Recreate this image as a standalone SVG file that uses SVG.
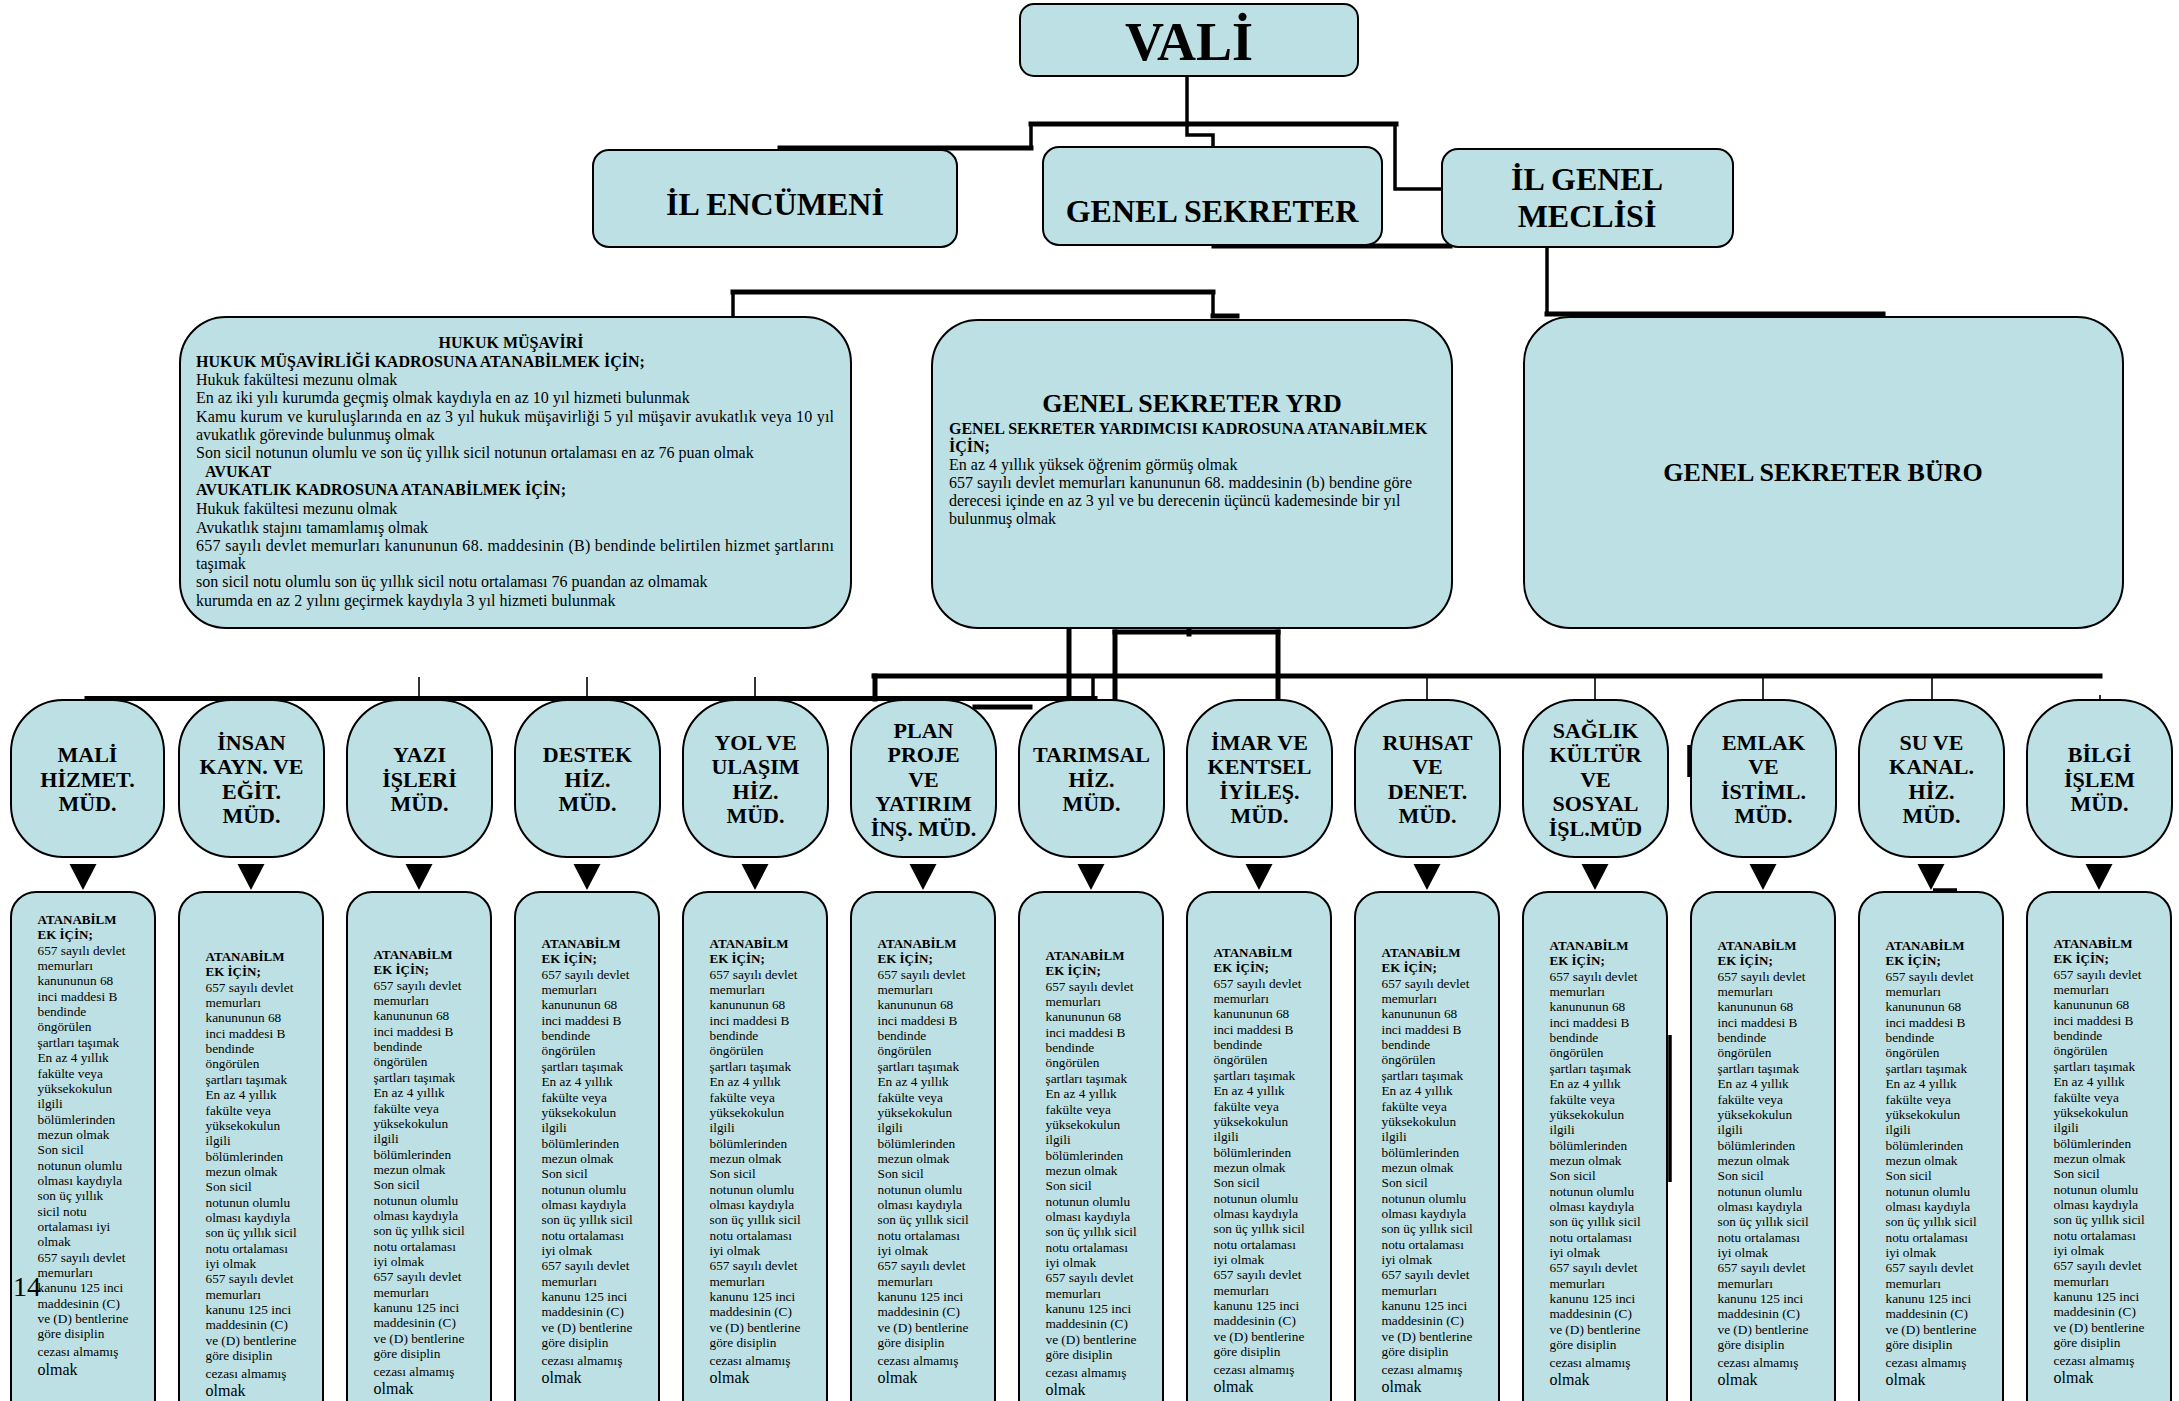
<svg xmlns="http://www.w3.org/2000/svg" width="2179" height="1401" viewBox="0 0 2179 1401">
<style>
.bg{fill:#ffffff}
.box{fill:#BCE0E4;stroke:#000;stroke-width:2}
.c{fill:none;stroke:#000;stroke-width:5;stroke-linecap:square}
.c3{fill:none;stroke:#000;stroke-width:3.5}
.c2{fill:none;stroke:#000;stroke-width:1.6}
.ar{fill:#000}
text{font-family:"Liberation Serif","Times New Roman",serif;fill:#000}
.h{font-weight:bold;text-anchor:middle}
.d{font-size:22px;font-weight:bold;text-anchor:middle}
.p{font-size:16px}
.pb{font-size:16px;font-weight:bold}
.rq{font-size:13.3px}
.bb{font-size:13px;font-weight:bold}
.big{font-size:16px}
</style>
<rect class="bg" x="0" y="0" width="2179" height="1401"/>
<g id="connectors">
<path class="c3" d="M1187,75 V124"/>
<path class="c" d="M1031,124 H1396"/>
<path class="c3" d="M1031,124 V148"/>
<path class="c" d="M780,148 H1031"/>
<path class="c3" d="M1187,124 V135 H1213 V148"/>
<path class="c3" d="M1395,124 V189 H1443"/>
<path class="c" d="M1214,246 H1450"/>
<path class="c3" d="M1547,246 V314"/>
<path class="c" d="M1547,314 H1883"/>
<path class="c3" d="M733,318 V292"/>
<path class="c" d="M733,292 H1213"/>
<path class="c3" d="M1213,292 V318"/>
<path class="c" d="M1213,316 H1237"/>
<path class="c" d="M87,698.5 H1095"/>
<path class="c" d="M874,676 H2100"/>
<path class="c" d="M875,676 V699"/>
<path class="c3" d="M1093,676 V699"/>
<path class="c" d="M1069,628 V699"/>
<path class="c" d="M1115,632 V699"/>
<path class="c" d="M1115,632 H1278"/>
<path class="c" d="M1278,632 V699"/>
<path class="c" d="M1189,628 V634"/>
<path class="c2" d="M419,677 V697 M587,677 V697 M755,677 V697"/>
<path class="c2" d="M1427,678 V700 M1595,678 V700 M1763,678 V700 M1932,678 V700 M2100,695 V700"/>
<path class="c" d="M975,707 H1030"/>
<path class="c3" d="M1689,745 V777"/>
<path class="c3" d="M1670,1035 V1182"/>
<path class="c3" d="M1933,890 H1957"/>
<polygon class="ar" points="69.5,864 96.5,864 83,890"/>
<polygon class="ar" points="237.5,864 264.5,864 251,890"/>
<polygon class="ar" points="405.5,864 432.5,864 419,890"/>
<polygon class="ar" points="573.5,864 600.5,864 587,890"/>
<polygon class="ar" points="741.5,864 768.5,864 755,890"/>
<polygon class="ar" points="909.5,864 936.5,864 923,890"/>
<polygon class="ar" points="1077.5,864 1104.5,864 1091,890"/>
<polygon class="ar" points="1245.5,864 1272.5,864 1259,890"/>
<polygon class="ar" points="1413.5,864 1440.5,864 1427,890"/>
<polygon class="ar" points="1581.5,864 1608.5,864 1595,890"/>
<polygon class="ar" points="1749.5,864 1776.5,864 1763,890"/>
<polygon class="ar" points="1917.5,864 1944.5,864 1931,890"/>
<polygon class="ar" points="2085.5,864 2112.5,864 2099,890"/>
</g>

<g id="vali">
<rect class="box" x="1020" y="4" width="338" height="72" rx="14"/>
<text class="h" x="1189" y="60" font-size="54">VALİ</text>
</g>
<g id="il-encumeni">
<rect class="box" x="593" y="150" width="364" height="97" rx="16"/>
<text class="h" x="775" y="215" font-size="32">İL ENCÜMENİ</text>
</g>
<g id="genel-sekreter">
<rect class="box" x="1043" y="147" width="339" height="98" rx="16"/>
<text class="h" x="1212" y="222" font-size="32">GENEL SEKRETER</text>
</g>
<g id="il-genel-meclisi">
<rect class="box" x="1442" y="149" width="291" height="98" rx="16"/>
<text class="h" x="1587" y="190" font-size="32">İL GENEL</text>
<text class="h" x="1587" y="227" font-size="32">MECLİSİ</text>
</g>

<g id="hukuk">
<rect class="box" x="180" y="317" width="671" height="311" rx="46"/>
<text class="pb" x="511" y="348" text-anchor="middle">HUKUK MÜŞAVİRİ</text>
<text class="pb" x="196" y="367">HUKUK MÜŞAVİRLİĞİ KADROSUNA ATANABİLMEK İÇİN;</text>
<text class="p" x="196" y="385">Hukuk fakültesi mezunu olmak</text>
<text class="p" x="196" y="403">En az iki yılı kurumda geçmiş olmak kaydıyla en az 10 yıl hizmeti bulunmak</text>
<text class="p" x="196" y="422" textLength="638" lengthAdjust="spacing">Kamu kurum ve kuruluşlarında en az 3 yıl hukuk müşavirliği 5 yıl müşavir avukatlık veya 10 yıl</text>
<text class="p" x="196" y="440">avukatlık görevinde bulunmuş olmak</text>
<text class="p" x="196" y="458">Son sicil notunun olumlu ve son üç yıllık sicil notunun ortalaması en az 76 puan olmak</text>
<text class="pb" x="205" y="477">AVUKAT</text>
<text class="pb" x="196" y="495">AVUKATLIK KADROSUNA ATANABİLMEK İÇİN;</text>
<text class="p" x="196" y="514">Hukuk fakültesi mezunu olmak</text>
<text class="p" x="196" y="533">Avukatlık stajını tamamlamış olmak</text>
<text class="p" x="196" y="551" textLength="638" lengthAdjust="spacing">657 sayılı devlet memurları kanununun 68. maddesinin (B) bendinde belirtilen hizmet şartlarını</text>
<text class="p" x="196" y="569">taşımak</text>
<text class="p" x="196" y="587">son sicil notu olumlu son üç yıllık sicil notu ortalaması 76 puandan az olmamak</text>
<text class="p" x="196" y="606">kurumda en az 2 yılını geçirmek kaydıyla 3 yıl hizmeti bulunmak</text>
</g>

<g id="genel-sekreter-yrd">
<rect class="box" x="932" y="320" width="520" height="308" rx="46"/>
<text class="h" x="1192" y="412" font-size="26">GENEL SEKRETER YRD</text>
<text class="pb" x="949" y="434">GENEL SEKRETER YARDIMCISI KADROSUNA ATANABİLMEK</text>
<text class="pb" x="949" y="452">İÇİN;</text>
<text class="p" x="949" y="470">En az 4 yıllık yüksek öğrenim görmüş olmak</text>
<text class="p" x="949" y="488">657 sayılı devlet memurları kanununun 68. maddesinin (b) bendine göre</text>
<text class="p" x="949" y="506">derecesi içinde en az 3 yıl ve bu derecenin üçüncü kademesinde bir yıl</text>
<text class="p" x="949" y="524">bulunmuş olmak</text>
</g>

<g id="genel-sekreter-buro">
<rect class="box" x="1524" y="317" width="599" height="311" rx="46"/>
<text class="h" x="1823" y="481" font-size="26">GENEL SEKRETER BÜRO</text>
</g>

<g id="mali">
<rect class="box" x="11" y="700" width="153" height="157" rx="52"/>
<text class="d" x="87.5" y="762">MALİ</text>
<text class="d" x="87.5" y="786.5">HİZMET.</text>
<text class="d" x="87.5" y="811">MÜD.</text>
</g>
<g id="insan">
<rect class="box" x="179" y="700" width="145" height="157" rx="52"/>
<text class="d" x="251.5" y="749.75">İNSAN</text>
<text class="d" x="251.5" y="774.25">KAYN. VE</text>
<text class="d" x="251.5" y="798.75">EĞİT.</text>
<text class="d" x="251.5" y="823.25">MÜD.</text>
</g>
<g id="yazi">
<rect class="box" x="347" y="700" width="145" height="157" rx="52"/>
<text class="d" x="419.5" y="762">YAZI</text>
<text class="d" x="419.5" y="786.5">İŞLERİ</text>
<text class="d" x="419.5" y="811">MÜD.</text>
</g>
<g id="destek">
<rect class="box" x="515" y="700" width="145" height="157" rx="52"/>
<text class="d" x="587.5" y="762">DESTEK</text>
<text class="d" x="587.5" y="786.5">HİZ.</text>
<text class="d" x="587.5" y="811">MÜD.</text>
</g>
<g id="yol">
<rect class="box" x="683" y="700" width="145" height="157" rx="52"/>
<text class="d" x="755.5" y="749.75">YOL VE</text>
<text class="d" x="755.5" y="774.25">ULAŞIM</text>
<text class="d" x="755.5" y="798.75">HİZ.</text>
<text class="d" x="755.5" y="823.25">MÜD.</text>
</g>
<g id="plan">
<rect class="box" x="851" y="700" width="145" height="157" rx="52"/>
<text class="d" x="923.5" y="737.5">PLAN</text>
<text class="d" x="923.5" y="762">PROJE</text>
<text class="d" x="923.5" y="786.5">VE</text>
<text class="d" x="923.5" y="811">YATIRIM</text>
<text class="d" x="923.5" y="835.5">İNŞ. MÜD.</text>
</g>
<g id="tarimsal">
<rect class="box" x="1019" y="700" width="145" height="157" rx="52"/>
<text class="d" x="1091.5" y="762">TARIMSAL</text>
<text class="d" x="1091.5" y="786.5">HİZ.</text>
<text class="d" x="1091.5" y="811">MÜD.</text>
</g>
<g id="imar">
<rect class="box" x="1187" y="700" width="145" height="157" rx="52"/>
<text class="d" x="1259.5" y="749.75">İMAR VE</text>
<text class="d" x="1259.5" y="774.25">KENTSEL</text>
<text class="d" x="1259.5" y="798.75">İYİLEŞ.</text>
<text class="d" x="1259.5" y="823.25">MÜD.</text>
</g>
<g id="ruhsat">
<rect class="box" x="1355" y="700" width="145" height="157" rx="52"/>
<text class="d" x="1427.5" y="749.75">RUHSAT</text>
<text class="d" x="1427.5" y="774.25">VE</text>
<text class="d" x="1427.5" y="798.75">DENET.</text>
<text class="d" x="1427.5" y="823.25">MÜD.</text>
</g>
<g id="saglik">
<rect class="box" x="1523" y="700" width="145" height="157" rx="52"/>
<text class="d" x="1595.5" y="737.5">SAĞLIK</text>
<text class="d" x="1595.5" y="762">KÜLTÜR</text>
<text class="d" x="1595.5" y="786.5">VE</text>
<text class="d" x="1595.5" y="811">SOSYAL</text>
<text class="d" x="1595.5" y="835.5">İŞL.MÜD</text>
</g>
<g id="emlak">
<rect class="box" x="1691" y="700" width="145" height="157" rx="52"/>
<text class="d" x="1763.5" y="749.75">EMLAK</text>
<text class="d" x="1763.5" y="774.25">VE</text>
<text class="d" x="1763.5" y="798.75">İSTİML.</text>
<text class="d" x="1763.5" y="823.25">MÜD.</text>
</g>
<g id="su">
<rect class="box" x="1859" y="700" width="145" height="157" rx="52"/>
<text class="d" x="1931.5" y="749.75">SU VE</text>
<text class="d" x="1931.5" y="774.25">KANAL.</text>
<text class="d" x="1931.5" y="798.75">HİZ.</text>
<text class="d" x="1931.5" y="823.25">MÜD.</text>
</g>
<g id="bilgi">
<rect class="box" x="2027" y="700" width="145" height="157" rx="52"/>
<text class="d" x="2099.5" y="762">BİLGİ</text>
<text class="d" x="2099.5" y="786.5">İŞLEM</text>
<text class="d" x="2099.5" y="811">MÜD.</text>
</g>

<g id="req-mali">
<rect class="box" x="11" y="892" width="144" height="600" rx="25"/>
<text class="rq" x="37.5" y="924"><tspan class="bb">ATANABİLM</tspan><tspan class="bb" x="37.5" dy="15.35">EK İÇİN;</tspan><tspan x="37.5" dy="15.35">657 sayılı devlet</tspan><tspan x="37.5" dy="15.35">memurları</tspan><tspan x="37.5" dy="15.35">kanununun 68</tspan><tspan x="37.5" dy="15.35">inci maddesi B</tspan><tspan x="37.5" dy="15.35">bendinde</tspan><tspan x="37.5" dy="15.35">öngörülen</tspan><tspan x="37.5" dy="15.35">şartları taşımak</tspan><tspan x="37.5" dy="15.35">En az 4 yıllık</tspan><tspan x="37.5" dy="15.35">fakülte veya</tspan><tspan x="37.5" dy="15.35">yüksekokulun</tspan><tspan x="37.5" dy="15.35">ilgili</tspan><tspan x="37.5" dy="15.35">bölümlerinden</tspan><tspan x="37.5" dy="15.35">mezun olmak</tspan><tspan x="37.5" dy="15.35">Son sicil</tspan><tspan x="37.5" dy="15.35">notunun olumlu</tspan><tspan x="37.5" dy="15.35">olması kaydıyla</tspan><tspan x="37.5" dy="15.35">son üç yıllık</tspan><tspan x="37.5" dy="15.35">sicil notu</tspan><tspan x="37.5" dy="15.35">ortalaması iyi</tspan><tspan x="37.5" dy="15.35">olmak</tspan><tspan x="37.5" dy="15.35">657 sayılı devlet</tspan><tspan x="37.5" dy="15.35">memurları</tspan><tspan x="37.5" dy="15.35">kanunu 125 inci</tspan><tspan x="37.5" dy="15.35">maddesinin (C)</tspan><tspan x="37.5" dy="15.35">ve (D) bentlerine</tspan><tspan x="37.5" dy="15.35">göre disiplin</tspan><tspan x="37.5" dy="17.5">cezası almamış</tspan><tspan class="big" x="37.5" dy="19">olmak</tspan></text>
</g>
<text id="page-number" x="13" y="1296" font-size="28">14</text>

<g id="req-insan">
<rect class="box" x="179" y="892" width="144" height="600" rx="25"/>
<text class="rq" x="205.5" y="961"><tspan class="bb">ATANABİLM</tspan><tspan class="bb" x="205.5" dy="15.35">EK İÇİN;</tspan><tspan x="205.5" dy="15.35">657 sayılı devlet</tspan><tspan x="205.5" dy="15.35">memurları</tspan><tspan x="205.5" dy="15.35">kanununun 68</tspan><tspan x="205.5" dy="15.35">inci maddesi B</tspan><tspan x="205.5" dy="15.35">bendinde</tspan><tspan x="205.5" dy="15.35">öngörülen</tspan><tspan x="205.5" dy="15.35">şartları taşımak</tspan><tspan x="205.5" dy="15.35">En az 4 yıllık</tspan><tspan x="205.5" dy="15.35">fakülte veya</tspan><tspan x="205.5" dy="15.35">yüksekokulun</tspan><tspan x="205.5" dy="15.35">ilgili</tspan><tspan x="205.5" dy="15.35">bölümlerinden</tspan><tspan x="205.5" dy="15.35">mezun olmak</tspan><tspan x="205.5" dy="15.35">Son sicil</tspan><tspan x="205.5" dy="15.35">notunun olumlu</tspan><tspan x="205.5" dy="15.35">olması kaydıyla</tspan><tspan x="205.5" dy="15.35">son üç yıllık sicil</tspan><tspan x="205.5" dy="15.35">notu ortalaması</tspan><tspan x="205.5" dy="15.35">iyi olmak</tspan><tspan x="205.5" dy="15.35">657 sayılı devlet</tspan><tspan x="205.5" dy="15.35">memurları</tspan><tspan x="205.5" dy="15.35">kanunu 125 inci</tspan><tspan x="205.5" dy="15.35">maddesinin (C)</tspan><tspan x="205.5" dy="15.35">ve (D) bentlerine</tspan><tspan x="205.5" dy="15.35">göre disiplin</tspan><tspan x="205.5" dy="17.5">cezası almamış</tspan><tspan class="big" x="205.5" dy="18.5">olmak</tspan></text>
</g>
<g id="req-yazi">
<rect class="box" x="347" y="892" width="144" height="600" rx="25"/>
<text class="rq" x="373.5" y="959"><tspan class="bb">ATANABİLM</tspan><tspan class="bb" x="373.5" dy="15.35">EK İÇİN;</tspan><tspan x="373.5" dy="15.35">657 sayılı devlet</tspan><tspan x="373.5" dy="15.35">memurları</tspan><tspan x="373.5" dy="15.35">kanununun 68</tspan><tspan x="373.5" dy="15.35">inci maddesi B</tspan><tspan x="373.5" dy="15.35">bendinde</tspan><tspan x="373.5" dy="15.35">öngörülen</tspan><tspan x="373.5" dy="15.35">şartları taşımak</tspan><tspan x="373.5" dy="15.35">En az 4 yıllık</tspan><tspan x="373.5" dy="15.35">fakülte veya</tspan><tspan x="373.5" dy="15.35">yüksekokulun</tspan><tspan x="373.5" dy="15.35">ilgili</tspan><tspan x="373.5" dy="15.35">bölümlerinden</tspan><tspan x="373.5" dy="15.35">mezun olmak</tspan><tspan x="373.5" dy="15.35">Son sicil</tspan><tspan x="373.5" dy="15.35">notunun olumlu</tspan><tspan x="373.5" dy="15.35">olması kaydıyla</tspan><tspan x="373.5" dy="15.35">son üç yıllık sicil</tspan><tspan x="373.5" dy="15.35">notu ortalaması</tspan><tspan x="373.5" dy="15.35">iyi olmak</tspan><tspan x="373.5" dy="15.35">657 sayılı devlet</tspan><tspan x="373.5" dy="15.35">memurları</tspan><tspan x="373.5" dy="15.35">kanunu 125 inci</tspan><tspan x="373.5" dy="15.35">maddesinin (C)</tspan><tspan x="373.5" dy="15.35">ve (D) bentlerine</tspan><tspan x="373.5" dy="15.35">göre disiplin</tspan><tspan x="373.5" dy="17.5">cezası almamış</tspan><tspan class="big" x="373.5" dy="18.5">olmak</tspan></text>
</g>
<g id="req-destek">
<rect class="box" x="515" y="892" width="144" height="600" rx="25"/>
<text class="rq" x="541.5" y="948"><tspan class="bb">ATANABİLM</tspan><tspan class="bb" x="541.5" dy="15.35">EK İÇİN;</tspan><tspan x="541.5" dy="15.35">657 sayılı devlet</tspan><tspan x="541.5" dy="15.35">memurları</tspan><tspan x="541.5" dy="15.35">kanununun 68</tspan><tspan x="541.5" dy="15.35">inci maddesi B</tspan><tspan x="541.5" dy="15.35">bendinde</tspan><tspan x="541.5" dy="15.35">öngörülen</tspan><tspan x="541.5" dy="15.35">şartları taşımak</tspan><tspan x="541.5" dy="15.35">En az 4 yıllık</tspan><tspan x="541.5" dy="15.35">fakülte veya</tspan><tspan x="541.5" dy="15.35">yüksekokulun</tspan><tspan x="541.5" dy="15.35">ilgili</tspan><tspan x="541.5" dy="15.35">bölümlerinden</tspan><tspan x="541.5" dy="15.35">mezun olmak</tspan><tspan x="541.5" dy="15.35">Son sicil</tspan><tspan x="541.5" dy="15.35">notunun olumlu</tspan><tspan x="541.5" dy="15.35">olması kaydıyla</tspan><tspan x="541.5" dy="15.35">son üç yıllık sicil</tspan><tspan x="541.5" dy="15.35">notu ortalaması</tspan><tspan x="541.5" dy="15.35">iyi olmak</tspan><tspan x="541.5" dy="15.35">657 sayılı devlet</tspan><tspan x="541.5" dy="15.35">memurları</tspan><tspan x="541.5" dy="15.35">kanunu 125 inci</tspan><tspan x="541.5" dy="15.35">maddesinin (C)</tspan><tspan x="541.5" dy="15.35">ve (D) bentlerine</tspan><tspan x="541.5" dy="15.35">göre disiplin</tspan><tspan x="541.5" dy="17.5">cezası almamış</tspan><tspan class="big" x="541.5" dy="18.5">olmak</tspan></text>
</g>
<g id="req-yol">
<rect class="box" x="683" y="892" width="144" height="600" rx="25"/>
<text class="rq" x="709.5" y="948"><tspan class="bb">ATANABİLM</tspan><tspan class="bb" x="709.5" dy="15.35">EK İÇİN;</tspan><tspan x="709.5" dy="15.35">657 sayılı devlet</tspan><tspan x="709.5" dy="15.35">memurları</tspan><tspan x="709.5" dy="15.35">kanununun 68</tspan><tspan x="709.5" dy="15.35">inci maddesi B</tspan><tspan x="709.5" dy="15.35">bendinde</tspan><tspan x="709.5" dy="15.35">öngörülen</tspan><tspan x="709.5" dy="15.35">şartları taşımak</tspan><tspan x="709.5" dy="15.35">En az 4 yıllık</tspan><tspan x="709.5" dy="15.35">fakülte veya</tspan><tspan x="709.5" dy="15.35">yüksekokulun</tspan><tspan x="709.5" dy="15.35">ilgili</tspan><tspan x="709.5" dy="15.35">bölümlerinden</tspan><tspan x="709.5" dy="15.35">mezun olmak</tspan><tspan x="709.5" dy="15.35">Son sicil</tspan><tspan x="709.5" dy="15.35">notunun olumlu</tspan><tspan x="709.5" dy="15.35">olması kaydıyla</tspan><tspan x="709.5" dy="15.35">son üç yıllık sicil</tspan><tspan x="709.5" dy="15.35">notu ortalaması</tspan><tspan x="709.5" dy="15.35">iyi olmak</tspan><tspan x="709.5" dy="15.35">657 sayılı devlet</tspan><tspan x="709.5" dy="15.35">memurları</tspan><tspan x="709.5" dy="15.35">kanunu 125 inci</tspan><tspan x="709.5" dy="15.35">maddesinin (C)</tspan><tspan x="709.5" dy="15.35">ve (D) bentlerine</tspan><tspan x="709.5" dy="15.35">göre disiplin</tspan><tspan x="709.5" dy="17.5">cezası almamış</tspan><tspan class="big" x="709.5" dy="18.5">olmak</tspan></text>
</g>
<g id="req-plan">
<rect class="box" x="851" y="892" width="144" height="600" rx="25"/>
<text class="rq" x="877.5" y="948"><tspan class="bb">ATANABİLM</tspan><tspan class="bb" x="877.5" dy="15.35">EK İÇİN;</tspan><tspan x="877.5" dy="15.35">657 sayılı devlet</tspan><tspan x="877.5" dy="15.35">memurları</tspan><tspan x="877.5" dy="15.35">kanununun 68</tspan><tspan x="877.5" dy="15.35">inci maddesi B</tspan><tspan x="877.5" dy="15.35">bendinde</tspan><tspan x="877.5" dy="15.35">öngörülen</tspan><tspan x="877.5" dy="15.35">şartları taşımak</tspan><tspan x="877.5" dy="15.35">En az 4 yıllık</tspan><tspan x="877.5" dy="15.35">fakülte veya</tspan><tspan x="877.5" dy="15.35">yüksekokulun</tspan><tspan x="877.5" dy="15.35">ilgili</tspan><tspan x="877.5" dy="15.35">bölümlerinden</tspan><tspan x="877.5" dy="15.35">mezun olmak</tspan><tspan x="877.5" dy="15.35">Son sicil</tspan><tspan x="877.5" dy="15.35">notunun olumlu</tspan><tspan x="877.5" dy="15.35">olması kaydıyla</tspan><tspan x="877.5" dy="15.35">son üç yıllık sicil</tspan><tspan x="877.5" dy="15.35">notu ortalaması</tspan><tspan x="877.5" dy="15.35">iyi olmak</tspan><tspan x="877.5" dy="15.35">657 sayılı devlet</tspan><tspan x="877.5" dy="15.35">memurları</tspan><tspan x="877.5" dy="15.35">kanunu 125 inci</tspan><tspan x="877.5" dy="15.35">maddesinin (C)</tspan><tspan x="877.5" dy="15.35">ve (D) bentlerine</tspan><tspan x="877.5" dy="15.35">göre disiplin</tspan><tspan x="877.5" dy="17.5">cezası almamış</tspan><tspan class="big" x="877.5" dy="18.5">olmak</tspan></text>
</g>
<g id="req-tarimsal">
<rect class="box" x="1019" y="892" width="144" height="600" rx="25"/>
<text class="rq" x="1045.5" y="960"><tspan class="bb">ATANABİLM</tspan><tspan class="bb" x="1045.5" dy="15.35">EK İÇİN;</tspan><tspan x="1045.5" dy="15.35">657 sayılı devlet</tspan><tspan x="1045.5" dy="15.35">memurları</tspan><tspan x="1045.5" dy="15.35">kanununun 68</tspan><tspan x="1045.5" dy="15.35">inci maddesi B</tspan><tspan x="1045.5" dy="15.35">bendinde</tspan><tspan x="1045.5" dy="15.35">öngörülen</tspan><tspan x="1045.5" dy="15.35">şartları taşımak</tspan><tspan x="1045.5" dy="15.35">En az 4 yıllık</tspan><tspan x="1045.5" dy="15.35">fakülte veya</tspan><tspan x="1045.5" dy="15.35">yüksekokulun</tspan><tspan x="1045.5" dy="15.35">ilgili</tspan><tspan x="1045.5" dy="15.35">bölümlerinden</tspan><tspan x="1045.5" dy="15.35">mezun olmak</tspan><tspan x="1045.5" dy="15.35">Son sicil</tspan><tspan x="1045.5" dy="15.35">notunun olumlu</tspan><tspan x="1045.5" dy="15.35">olması kaydıyla</tspan><tspan x="1045.5" dy="15.35">son üç yıllık sicil</tspan><tspan x="1045.5" dy="15.35">notu ortalaması</tspan><tspan x="1045.5" dy="15.35">iyi olmak</tspan><tspan x="1045.5" dy="15.35">657 sayılı devlet</tspan><tspan x="1045.5" dy="15.35">memurları</tspan><tspan x="1045.5" dy="15.35">kanunu 125 inci</tspan><tspan x="1045.5" dy="15.35">maddesinin (C)</tspan><tspan x="1045.5" dy="15.35">ve (D) bentlerine</tspan><tspan x="1045.5" dy="15.35">göre disiplin</tspan><tspan x="1045.5" dy="17.5">cezası almamış</tspan><tspan class="big" x="1045.5" dy="18.5">olmak</tspan></text>
</g>
<g id="req-imar">
<rect class="box" x="1187" y="892" width="144" height="600" rx="25"/>
<text class="rq" x="1213.5" y="957"><tspan class="bb">ATANABİLM</tspan><tspan class="bb" x="1213.5" dy="15.35">EK İÇİN;</tspan><tspan x="1213.5" dy="15.35">657 sayılı devlet</tspan><tspan x="1213.5" dy="15.35">memurları</tspan><tspan x="1213.5" dy="15.35">kanununun 68</tspan><tspan x="1213.5" dy="15.35">inci maddesi B</tspan><tspan x="1213.5" dy="15.35">bendinde</tspan><tspan x="1213.5" dy="15.35">öngörülen</tspan><tspan x="1213.5" dy="15.35">şartları taşımak</tspan><tspan x="1213.5" dy="15.35">En az 4 yıllık</tspan><tspan x="1213.5" dy="15.35">fakülte veya</tspan><tspan x="1213.5" dy="15.35">yüksekokulun</tspan><tspan x="1213.5" dy="15.35">ilgili</tspan><tspan x="1213.5" dy="15.35">bölümlerinden</tspan><tspan x="1213.5" dy="15.35">mezun olmak</tspan><tspan x="1213.5" dy="15.35">Son sicil</tspan><tspan x="1213.5" dy="15.35">notunun olumlu</tspan><tspan x="1213.5" dy="15.35">olması kaydıyla</tspan><tspan x="1213.5" dy="15.35">son üç yıllık sicil</tspan><tspan x="1213.5" dy="15.35">notu ortalaması</tspan><tspan x="1213.5" dy="15.35">iyi olmak</tspan><tspan x="1213.5" dy="15.35">657 sayılı devlet</tspan><tspan x="1213.5" dy="15.35">memurları</tspan><tspan x="1213.5" dy="15.35">kanunu 125 inci</tspan><tspan x="1213.5" dy="15.35">maddesinin (C)</tspan><tspan x="1213.5" dy="15.35">ve (D) bentlerine</tspan><tspan x="1213.5" dy="15.35">göre disiplin</tspan><tspan x="1213.5" dy="17.5">cezası almamış</tspan><tspan class="big" x="1213.5" dy="18.5">olmak</tspan></text>
</g>
<g id="req-ruhsat">
<rect class="box" x="1355" y="892" width="144" height="600" rx="25"/>
<text class="rq" x="1381.5" y="957"><tspan class="bb">ATANABİLM</tspan><tspan class="bb" x="1381.5" dy="15.35">EK İÇİN;</tspan><tspan x="1381.5" dy="15.35">657 sayılı devlet</tspan><tspan x="1381.5" dy="15.35">memurları</tspan><tspan x="1381.5" dy="15.35">kanununun 68</tspan><tspan x="1381.5" dy="15.35">inci maddesi B</tspan><tspan x="1381.5" dy="15.35">bendinde</tspan><tspan x="1381.5" dy="15.35">öngörülen</tspan><tspan x="1381.5" dy="15.35">şartları taşımak</tspan><tspan x="1381.5" dy="15.35">En az 4 yıllık</tspan><tspan x="1381.5" dy="15.35">fakülte veya</tspan><tspan x="1381.5" dy="15.35">yüksekokulun</tspan><tspan x="1381.5" dy="15.35">ilgili</tspan><tspan x="1381.5" dy="15.35">bölümlerinden</tspan><tspan x="1381.5" dy="15.35">mezun olmak</tspan><tspan x="1381.5" dy="15.35">Son sicil</tspan><tspan x="1381.5" dy="15.35">notunun olumlu</tspan><tspan x="1381.5" dy="15.35">olması kaydıyla</tspan><tspan x="1381.5" dy="15.35">son üç yıllık sicil</tspan><tspan x="1381.5" dy="15.35">notu ortalaması</tspan><tspan x="1381.5" dy="15.35">iyi olmak</tspan><tspan x="1381.5" dy="15.35">657 sayılı devlet</tspan><tspan x="1381.5" dy="15.35">memurları</tspan><tspan x="1381.5" dy="15.35">kanunu 125 inci</tspan><tspan x="1381.5" dy="15.35">maddesinin (C)</tspan><tspan x="1381.5" dy="15.35">ve (D) bentlerine</tspan><tspan x="1381.5" dy="15.35">göre disiplin</tspan><tspan x="1381.5" dy="17.5">cezası almamış</tspan><tspan class="big" x="1381.5" dy="18.5">olmak</tspan></text>
</g>
<g id="req-saglik">
<rect class="box" x="1523" y="892" width="144" height="600" rx="25"/>
<text class="rq" x="1549.5" y="950"><tspan class="bb">ATANABİLM</tspan><tspan class="bb" x="1549.5" dy="15.35">EK İÇİN;</tspan><tspan x="1549.5" dy="15.35">657 sayılı devlet</tspan><tspan x="1549.5" dy="15.35">memurları</tspan><tspan x="1549.5" dy="15.35">kanununun 68</tspan><tspan x="1549.5" dy="15.35">inci maddesi B</tspan><tspan x="1549.5" dy="15.35">bendinde</tspan><tspan x="1549.5" dy="15.35">öngörülen</tspan><tspan x="1549.5" dy="15.35">şartları taşımak</tspan><tspan x="1549.5" dy="15.35">En az 4 yıllık</tspan><tspan x="1549.5" dy="15.35">fakülte veya</tspan><tspan x="1549.5" dy="15.35">yüksekokulun</tspan><tspan x="1549.5" dy="15.35">ilgili</tspan><tspan x="1549.5" dy="15.35">bölümlerinden</tspan><tspan x="1549.5" dy="15.35">mezun olmak</tspan><tspan x="1549.5" dy="15.35">Son sicil</tspan><tspan x="1549.5" dy="15.35">notunun olumlu</tspan><tspan x="1549.5" dy="15.35">olması kaydıyla</tspan><tspan x="1549.5" dy="15.35">son üç yıllık sicil</tspan><tspan x="1549.5" dy="15.35">notu ortalaması</tspan><tspan x="1549.5" dy="15.35">iyi olmak</tspan><tspan x="1549.5" dy="15.35">657 sayılı devlet</tspan><tspan x="1549.5" dy="15.35">memurları</tspan><tspan x="1549.5" dy="15.35">kanunu 125 inci</tspan><tspan x="1549.5" dy="15.35">maddesinin (C)</tspan><tspan x="1549.5" dy="15.35">ve (D) bentlerine</tspan><tspan x="1549.5" dy="15.35">göre disiplin</tspan><tspan x="1549.5" dy="17.5">cezası almamış</tspan><tspan class="big" x="1549.5" dy="18.5">olmak</tspan></text>
</g>
<g id="req-emlak">
<rect class="box" x="1691" y="892" width="144" height="600" rx="25"/>
<text class="rq" x="1717.5" y="950"><tspan class="bb">ATANABİLM</tspan><tspan class="bb" x="1717.5" dy="15.35">EK İÇİN;</tspan><tspan x="1717.5" dy="15.35">657 sayılı devlet</tspan><tspan x="1717.5" dy="15.35">memurları</tspan><tspan x="1717.5" dy="15.35">kanununun 68</tspan><tspan x="1717.5" dy="15.35">inci maddesi B</tspan><tspan x="1717.5" dy="15.35">bendinde</tspan><tspan x="1717.5" dy="15.35">öngörülen</tspan><tspan x="1717.5" dy="15.35">şartları taşımak</tspan><tspan x="1717.5" dy="15.35">En az 4 yıllık</tspan><tspan x="1717.5" dy="15.35">fakülte veya</tspan><tspan x="1717.5" dy="15.35">yüksekokulun</tspan><tspan x="1717.5" dy="15.35">ilgili</tspan><tspan x="1717.5" dy="15.35">bölümlerinden</tspan><tspan x="1717.5" dy="15.35">mezun olmak</tspan><tspan x="1717.5" dy="15.35">Son sicil</tspan><tspan x="1717.5" dy="15.35">notunun olumlu</tspan><tspan x="1717.5" dy="15.35">olması kaydıyla</tspan><tspan x="1717.5" dy="15.35">son üç yıllık sicil</tspan><tspan x="1717.5" dy="15.35">notu ortalaması</tspan><tspan x="1717.5" dy="15.35">iyi olmak</tspan><tspan x="1717.5" dy="15.35">657 sayılı devlet</tspan><tspan x="1717.5" dy="15.35">memurları</tspan><tspan x="1717.5" dy="15.35">kanunu 125 inci</tspan><tspan x="1717.5" dy="15.35">maddesinin (C)</tspan><tspan x="1717.5" dy="15.35">ve (D) bentlerine</tspan><tspan x="1717.5" dy="15.35">göre disiplin</tspan><tspan x="1717.5" dy="17.5">cezası almamış</tspan><tspan class="big" x="1717.5" dy="18.5">olmak</tspan></text>
</g>
<g id="req-su">
<rect class="box" x="1859" y="892" width="144" height="600" rx="25"/>
<text class="rq" x="1885.5" y="950"><tspan class="bb">ATANABİLM</tspan><tspan class="bb" x="1885.5" dy="15.35">EK İÇİN;</tspan><tspan x="1885.5" dy="15.35">657 sayılı devlet</tspan><tspan x="1885.5" dy="15.35">memurları</tspan><tspan x="1885.5" dy="15.35">kanununun 68</tspan><tspan x="1885.5" dy="15.35">inci maddesi B</tspan><tspan x="1885.5" dy="15.35">bendinde</tspan><tspan x="1885.5" dy="15.35">öngörülen</tspan><tspan x="1885.5" dy="15.35">şartları taşımak</tspan><tspan x="1885.5" dy="15.35">En az 4 yıllık</tspan><tspan x="1885.5" dy="15.35">fakülte veya</tspan><tspan x="1885.5" dy="15.35">yüksekokulun</tspan><tspan x="1885.5" dy="15.35">ilgili</tspan><tspan x="1885.5" dy="15.35">bölümlerinden</tspan><tspan x="1885.5" dy="15.35">mezun olmak</tspan><tspan x="1885.5" dy="15.35">Son sicil</tspan><tspan x="1885.5" dy="15.35">notunun olumlu</tspan><tspan x="1885.5" dy="15.35">olması kaydıyla</tspan><tspan x="1885.5" dy="15.35">son üç yıllık sicil</tspan><tspan x="1885.5" dy="15.35">notu ortalaması</tspan><tspan x="1885.5" dy="15.35">iyi olmak</tspan><tspan x="1885.5" dy="15.35">657 sayılı devlet</tspan><tspan x="1885.5" dy="15.35">memurları</tspan><tspan x="1885.5" dy="15.35">kanunu 125 inci</tspan><tspan x="1885.5" dy="15.35">maddesinin (C)</tspan><tspan x="1885.5" dy="15.35">ve (D) bentlerine</tspan><tspan x="1885.5" dy="15.35">göre disiplin</tspan><tspan x="1885.5" dy="17.5">cezası almamış</tspan><tspan class="big" x="1885.5" dy="18.5">olmak</tspan></text>
</g>
<g id="req-bilgi">
<rect class="box" x="2027" y="892" width="144" height="600" rx="25"/>
<text class="rq" x="2053.5" y="948"><tspan class="bb">ATANABİLM</tspan><tspan class="bb" x="2053.5" dy="15.35">EK İÇİN;</tspan><tspan x="2053.5" dy="15.35">657 sayılı devlet</tspan><tspan x="2053.5" dy="15.35">memurları</tspan><tspan x="2053.5" dy="15.35">kanununun 68</tspan><tspan x="2053.5" dy="15.35">inci maddesi B</tspan><tspan x="2053.5" dy="15.35">bendinde</tspan><tspan x="2053.5" dy="15.35">öngörülen</tspan><tspan x="2053.5" dy="15.35">şartları taşımak</tspan><tspan x="2053.5" dy="15.35">En az 4 yıllık</tspan><tspan x="2053.5" dy="15.35">fakülte veya</tspan><tspan x="2053.5" dy="15.35">yüksekokulun</tspan><tspan x="2053.5" dy="15.35">ilgili</tspan><tspan x="2053.5" dy="15.35">bölümlerinden</tspan><tspan x="2053.5" dy="15.35">mezun olmak</tspan><tspan x="2053.5" dy="15.35">Son sicil</tspan><tspan x="2053.5" dy="15.35">notunun olumlu</tspan><tspan x="2053.5" dy="15.35">olması kaydıyla</tspan><tspan x="2053.5" dy="15.35">son üç yıllık sicil</tspan><tspan x="2053.5" dy="15.35">notu ortalaması</tspan><tspan x="2053.5" dy="15.35">iyi olmak</tspan><tspan x="2053.5" dy="15.35">657 sayılı devlet</tspan><tspan x="2053.5" dy="15.35">memurları</tspan><tspan x="2053.5" dy="15.35">kanunu 125 inci</tspan><tspan x="2053.5" dy="15.35">maddesinin (C)</tspan><tspan x="2053.5" dy="15.35">ve (D) bentlerine</tspan><tspan x="2053.5" dy="15.35">göre disiplin</tspan><tspan x="2053.5" dy="17.5">cezası almamış</tspan><tspan class="big" x="2053.5" dy="18.5">olmak</tspan></text>
</g>
</svg>
